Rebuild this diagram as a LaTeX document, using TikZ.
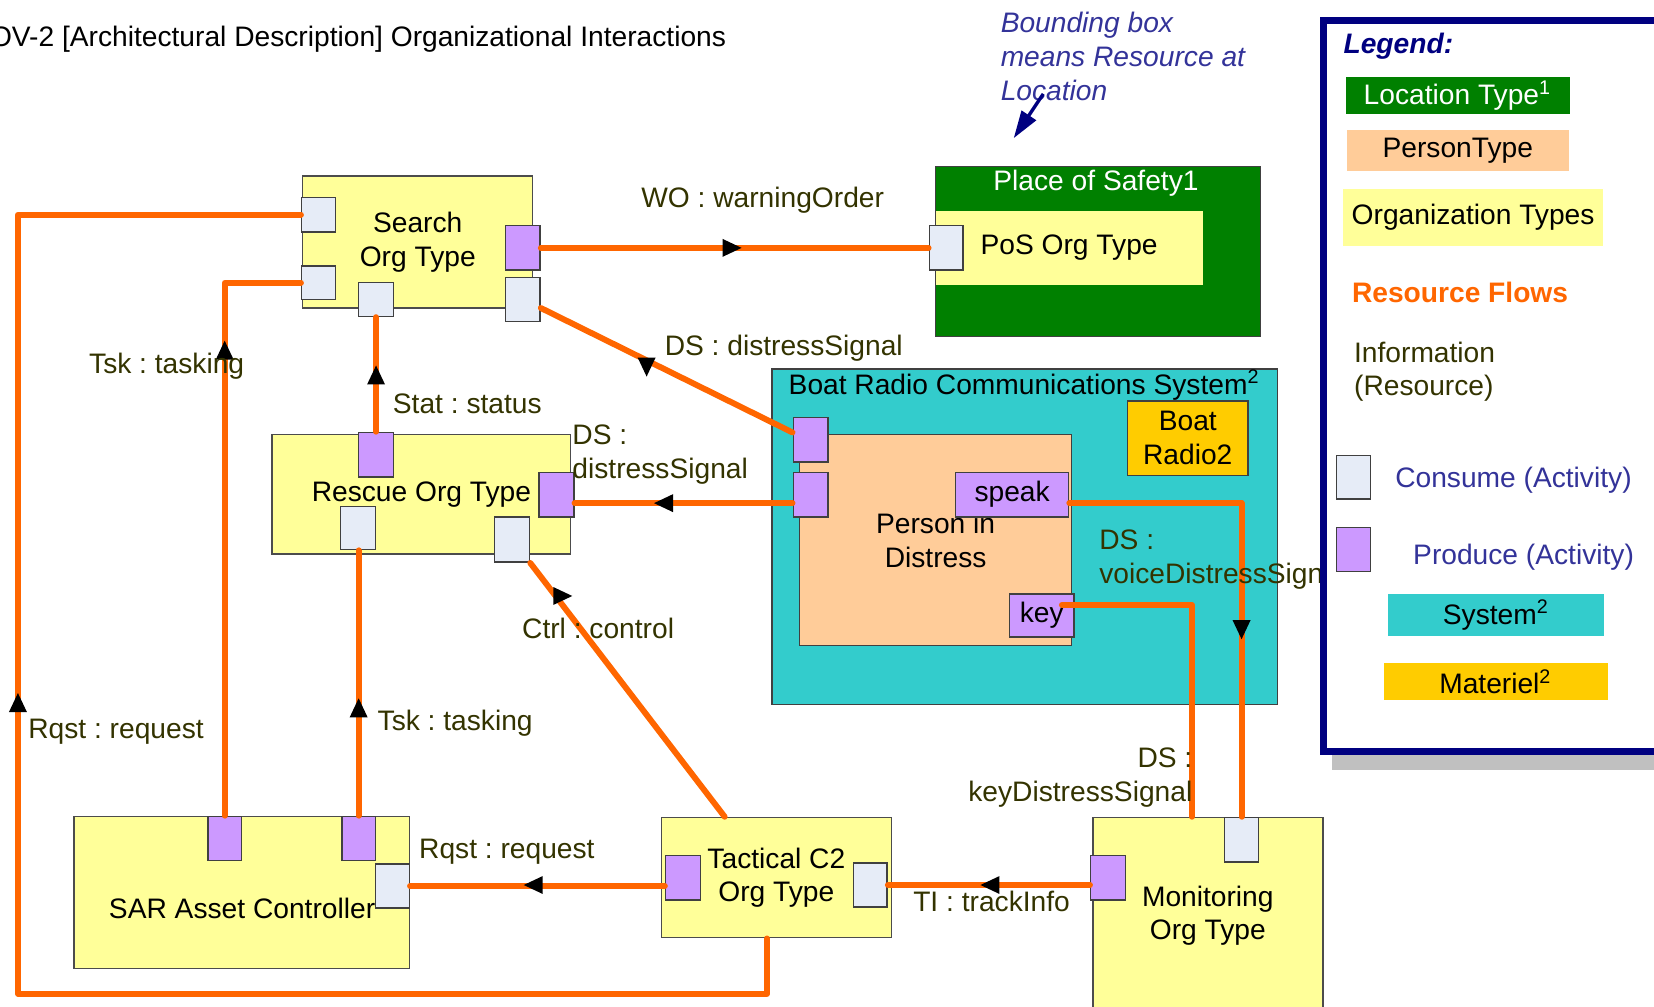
\documentclass[tikz,border=0pt]{standalone}
\usepackage{fontspec}
\setmainfont{Liberation Sans}
\usepackage{tikz}
\usetikzlibrary{arrows.meta}

\definecolor{orgyellow}{HTML}{FFFF99}
\definecolor{personpeach}{HTML}{FFCC99}
\definecolor{systemcyan}{HTML}{33CCCC}
\definecolor{materielgold}{HTML}{FFCC00}
\definecolor{locgreen}{HTML}{008000}
\definecolor{prodpurple}{HTML}{CC99FF}
\definecolor{consgray}{HTML}{E6ECF7}
\definecolor{floworange}{HTML}{FF6600}
\definecolor{labelolive}{HTML}{333300}
\definecolor{noteblue}{HTML}{333399}
\definecolor{legendnavy}{HTML}{000080}
\definecolor{shadowgray}{HTML}{C0C0C0}

\tikzset{
	orgbox/.style={draw=black!70, fill=orgyellow, line width=0.4pt, inner sep=0pt, align=center},
	consport/.style={draw=black!75, fill=consgray, line width=0.4pt, minimum width=0.32cm, minimum height=0.42cm, inner sep=0pt},
	prodport/.style={consport, fill=prodpurple},
	flow/.style={draw=floworange, line width=1.6pt, line cap=round, line join=round},
	flowlabel/.style={text=labelolive, inner sep=0pt, align=left},
	legendbox/.style={inner sep=0pt, align=center},
	flowhead/.pic={\fill[black] (0.09,0) -- (-0.09,0.085) -- (-0.09,-0.085) -- cycle;}
}

\begin{document}
\fontsize{7.6}{9.1}\selectfont\frenchspacing
\begin{tikzpicture}[x=1cm, y=-1cm]
	\useasboundingbox (0,0) rectangle (15.68,9.54);
	\clip (0,0) rectangle (15.68,9.54);
	% Title:
	\node[anchor=east, inner sep=0pt] (title) at (6.89,0.37) {OV-2 [Architectural Description] Organizational Interactions};
	% Search Org Type and its ports:
	\node[orgbox, minimum width=2.18cm, minimum height=1.25cm] (search) at (3.96,2.295) {Search\\Org Type};
	\node[consport, minimum height=0.33cm] (sl1) at (3.02,2.035) {};
	\node[consport, minimum height=0.32cm] (sl2) at (3.02,2.68) {};
	\node[consport, minimum width=0.33cm, minimum height=0.32cm] (sb) at (3.565,2.84) {};
	\node[prodport, minimum width=0.33cm] (srp) at (4.955,2.35) {};
	\node[consport, minimum width=0.33cm] (src) at (4.955,2.84) {};
	% Place of Safety:
	\node[draw=black!75, fill=locgreen, minimum width=3.08cm, minimum height=1.61cm] (pos) at (10.41,2.385) {};
	\node[text=white, inner sep=0pt] (posname) at (10.39,1.74) {Place of Safety1};
	\node[fill=orgyellow, minimum width=2.53cm, minimum height=0.70cm, inner sep=0pt] (posorg) at (10.135,2.35) {PoS Org Type};
	\node[consport] (posin) at (8.97,2.35) {};
	% Note on the bounding box:
	\node[anchor=west, align=left, text=noteblue, font=\itshape, inner sep=0pt] (note) at (9.48,0.535) {Bounding box\\means Resource at\\Location};
	\coordinate (notefrom) at (9.89,0.89);
	\coordinate (noteto) at (9.61,1.31);
	\draw[legendnavy, line width=0.9pt, -{Triangle[length=0.26cm, width=0.16cm]}] (notefrom) -- (noteto);
	% Rescue Org Type:
	\node[orgbox, minimum width=2.83cm, minimum height=1.13cm] (rescue) at (3.995,4.685) {Rescue Org Type};
	\node[prodport, minimum width=0.33cm] (rt) at (3.565,4.31) {};
	\node[prodport, minimum width=0.33cm] (rr) at (5.275,4.69) {};
	\node[consport, minimum width=0.33cm, minimum height=0.41cm] (rb1) at (3.395,5.005) {};
	\node[consport, minimum width=0.33cm, minimum height=0.43cm] (rb2) at (4.855,5.115) {};
	% Boat Radio Communications System:
	\node[draw=black!75, fill=systemcyan, minimum width=4.79cm, minimum height=3.18cm] (brcs) at (9.715,5.09) {};
	\node[anchor=west, inner sep=0pt] (brcsname) at (7.47,3.65) {Boat Radio Communications System\textsuperscript{2}};
	\node[draw=black!75, fill=materielgold, minimum width=1.14cm, minimum height=0.71cm, inner sep=0pt, align=center] (radio) at (11.26,4.155) {Boat\\Radio2};
	\node[draw=black!75, fill=personpeach, minimum width=2.58cm, minimum height=2.00cm, inner sep=0pt, align=center] (person) at (8.87,5.12) {Person in\\Distress};
	\node[prodport, minimum width=0.33cm] (pd1) at (7.685,4.17) {};
	\node[prodport, minimum width=0.33cm] (pd2) at (7.685,4.69) {};
	\node[prodport, minimum width=1.07cm] (speak) at (9.595,4.69) {speak};
	\node[prodport, minimum width=0.61cm, minimum height=0.41cm] (key) at (9.875,5.835) {key};
	% SAR Asset Controller:
	\node[orgbox, minimum width=3.18cm, minimum height=1.44cm] (sar) at (2.29,8.46) {};
	\node[inner sep=0pt] (sartext) at (2.295,8.61) {SAR Asset Controller};
	\node[prodport] (s1) at (2.13,7.95) {};
	\node[prodport] (s2) at (3.40,7.95) {};
	\node[consport] (sarc) at (3.72,8.40) {};
	% Tactical C2 Org Type:
	\node[orgbox, minimum width=2.18cm, minimum height=1.14cm] (tact) at (7.36,8.32) {Tactical C2\\Org Type};
	\node[prodport, minimum width=0.33cm] (tl) at (6.475,8.32) {};
	\node[consport] (tr) at (8.25,8.39) {};
	% Monitoring Org Type:
	\node[orgbox, minimum width=2.18cm, minimum height=2.00cm] (mon) at (11.45,8.75) {};
	\node[inner sep=0pt, align=center] (montext) at (11.45,8.68) {Monitoring\\Org Type};
	\node[prodport, minimum width=0.33cm] (ml) at (10.505,8.32) {};
	\node[consport] (mt) at (11.77,7.96) {};

	% Resource flows:
	\draw[flow] (srp.east) -- (posin.west);
	\pic at (6.94,2.35) {flowhead};
	\node[flowlabel] (lwo) at (7.23,1.90) {WO : warningOrder};

	\draw[flow] ([xshift=-0.9mm]tact.south) |- (0.17,9.42) |- (sl1.west);
	\pic[rotate=90] at (0.17,6.66) {flowhead};
	\node[flowlabel] (lrqst1) at (1.10,6.94) {Rqst : request};

	\draw[flow] (s1.north) |- (sl2.west);
	\pic[rotate=90] at (2.13,3.32) {flowhead};
	\node[flowlabel] (ltsk1) at (1.58,3.47) {Tsk : tasking};

	\draw[flow] (rt.north) -- (sb.south);
	\pic[rotate=90] at (3.565,3.555) {flowhead};
	\node[flowlabel] (lstat) at (4.43,3.83) {Stat : status};

	\draw[flow] ([yshift=0.7mm]pd1.west) -- ([yshift=-0.8mm]src.east);
	\pic[rotate=270] at (6.13,3.48) {flowhead};
	\node[flowlabel] (lds1) at (7.43,3.30) {DS : distressSignal};

	\draw[flow] ([yshift=-0.8mm]pd2.west) -- ([yshift=-0.8mm]rr.east);
	\pic[rotate=180] at (6.29,4.77) {flowhead};
	\node[flowlabel, anchor=west] (lds2) at (5.42,4.31) {DS :\\distressSignal};

	\draw[flow] ([xshift=-0.49cm]tact.north) -- (rb2.south east);
	\pic at (5.335,5.65) {flowhead};
	\node[flowlabel] (lctrl) at (5.67,5.96) {Ctrl : control};

	\draw[flow] (s2.north) -- (s2.north |- rb1.south);
	\pic[rotate=90] at (3.40,6.71) {flowhead};
	\node[flowlabel] (ltsk2) at (4.315,6.86) {Tsk : tasking};

	\draw[flow] (tl.west |- sarc.east) -- (sarc.east);
	\pic[rotate=180] at (5.055,8.39) {flowhead};
	\node[flowlabel] (lrqst2) at (4.805,8.07) {Rqst : request};

	\draw[flow] (ml.west |- tr.east) -- (tr.east);
	\pic[rotate=180] at (9.385,8.39) {flowhead};
	\node[flowlabel] (lti) at (9.40,8.55) {TI : trackInfo};

	\draw[flow] ([yshift=-0.8mm]speak.east) -| (mt.north);
	\pic[rotate=270] at (11.77,5.97) {flowhead};
	\node[flowlabel, anchor=west] (lds3) at (10.415,5.305) {DS :\\voiceDistressSignal};

	\draw[flow] ([shift={(-1.2mm,1mm)}]key.east) -| ([xshift=-1.5mm]mon.north);
	\node[flowlabel, anchor=east, align=right] (lds4) at (11.31,7.37) {DS :\\keyDistressSignal};

	% Legend:
	\fill[shadowgray] (12.63,0.30) rectangle (16.0,7.30);
	\draw[legendnavy, line width=1.9pt, fill=white] (12.545,0.19) rectangle (16.2,7.125);
	\node[anchor=west, inner sep=0pt, text=legendnavy, font=\bfseries\itshape] (legtitle) at (12.73,0.44) {Legend:};
	\node[legendbox, fill=locgreen, text=white, minimum width=2.12cm, minimum height=0.35cm] (leglocation) at (13.82,0.905) {Location Type\textsuperscript{1}};
	\node[legendbox, fill=personpeach, minimum width=2.10cm, minimum height=0.39cm] (legperson) at (13.82,1.425) {PersonType};
	\node[legendbox, fill=orgyellow, minimum width=2.47cm, minimum height=0.54cm] (legorg) at (13.965,2.06) {Organization Types};
	\node[anchor=west, inner sep=0pt, text=floworange, font=\bfseries] (legflows) at (12.81,2.77) {Resource Flows};
	\node[anchor=west, inner sep=0pt, align=left, text=labelolive] (leginfo) at (12.83,3.525) {Information\\(Resource)};
	\node[consport, minimum height=0.41cm] (legcons) at (12.83,4.525) {};
	\node[anchor=west, inner sep=0pt, text=noteblue] (legconstext) at (13.22,4.55) {Consume (Activity)};
	\node[prodport] (legprod) at (12.83,5.21) {};
	\node[anchor=west, inner sep=0pt, text=noteblue] (legprodtext) at (13.39,5.28) {Produce (Activity)};
	\node[legendbox, fill=systemcyan, minimum width=2.05cm, minimum height=0.40cm] (legsystem) at (14.185,5.83) {System\textsuperscript{2}};
	\node[legendbox, fill=materielgold, minimum width=2.12cm, minimum height=0.35cm] (legmateriel) at (14.18,6.465) {Materiel\textsuperscript{2}};
\end{tikzpicture}
\end{document}
